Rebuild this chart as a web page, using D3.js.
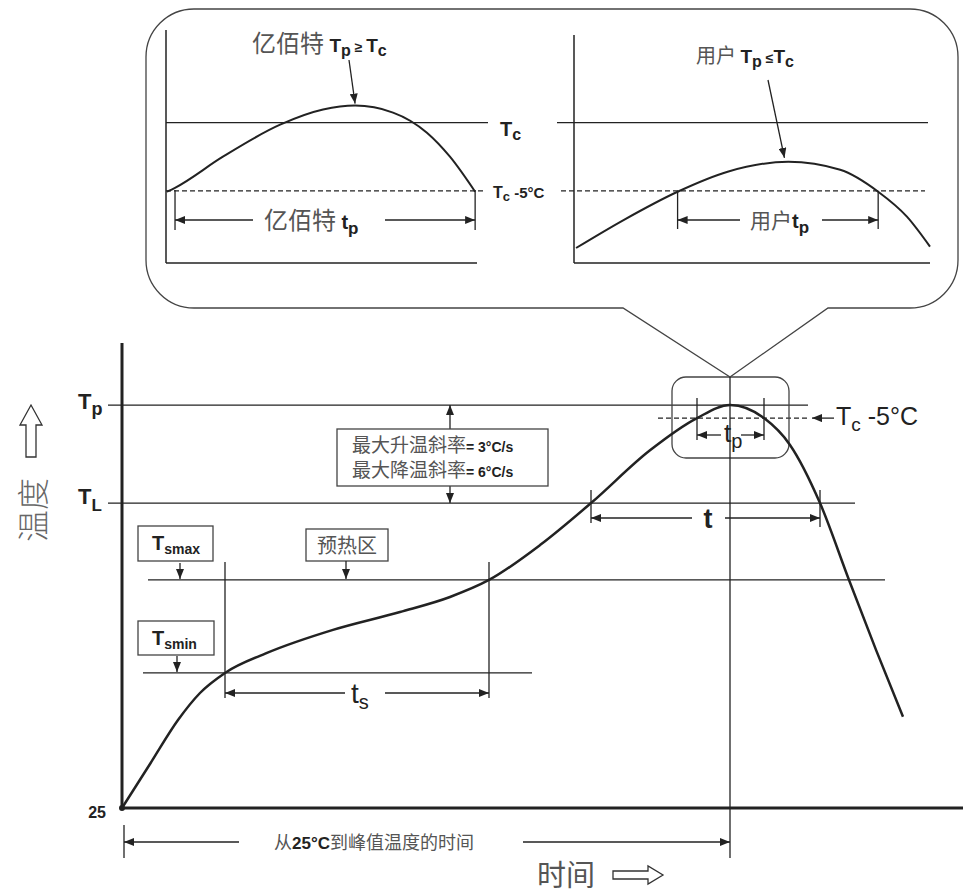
<!DOCTYPE html>
<html lang="zh">
<head>
  <meta charset="UTF-8" />
  <title>回流焊温度曲线</title>
  <style>
    body { margin: 0; background: #fff; }
    svg { display: block; }
  </style>
</head>
<body>
  <div id="chart"></div>
  <script src="https://d3js.org/d3.v7.min.js"></script>
  <script>
    // main profile: time (s) vs temperature (°C)
    var profileTime = [0, 14, 28, 39, 51.5, 72.5, 105.5, 139, 164, 183.5, 209, 234.5, 264, 287.5, 304, 321, 334, 349, 363.5, 377, 390.5];
    var profileTemp = [25, 49.6, 74.2, 89.3, 100.5, 111.7, 124.6, 134.6, 143, 152.5, 172, 195.5, 225, 243, 250.3, 243, 228, 195.5, 152.5, 113.4, 76];

    // temperature levels
    var levelNames = ["Tp", "Tc-5", "TL", "Tsmax", "Tsmin"];
    var levelValues = [250.3, 243, 195.5, 152.5, 100.5];

    // key times
    var tsStart = 51.5, tsEnd = 183.5;
    var tLStart = 234.5, tLEnd = 349;
    var tPeak = 304, tp1 = 287.5, tp2 = 321;

    // inset curves: x in % of inset width, y in °C relative to Tc
    var leftInsetX = [0.3, 2.9, 18.3, 36.7, 50.5, 60.8, 73, 83.9, 91.3, 99.4];
    var leftInsetY = [-5.07, -4.78, -2.5, -0.15, 0.96, 1.25, 0.74, -0.74, -2.5, -5.07];
    var rightInsetX = [0.3, 13.8, 28.9, 43, 60.1, 74.7, 85.4, 93.5, 100];
    var rightInsetY = [-9.2, -7.13, -5.07, -3.6, -2.87, -3.46, -5.07, -6.9, -9.1];

    var LAT = "'Liberation Sans', Arial, sans-serif";
    var CJK = "'Noto Sans CJK SC', 'Noto Sans', sans-serif";
    var INK = "#222", GREY = "#555";

    var svg = d3.select("#chart").append("svg")
      .attr("width", 963).attr("height", 894);

    var defs = svg.append("defs");
    defs.append("marker").attr("id", "arr")
      .attr("viewBox", "0 0 10 8").attr("refX", 10).attr("refY", 4)
      .attr("markerWidth", 10).attr("markerHeight", 8)
      .attr("markerUnits", "userSpaceOnUse").attr("orient", "auto-start-reverse")
      .append("path").attr("d", "M0,0L10,4L0,8Z").attr("fill", INK);

    var x = d3.scaleLinear().domain([0, 400]).range([122, 922]);
    var y = d3.scaleLinear().domain([25, 285]).range([808, 343]);
    var lv = function(name) { return y(levelValues[levelNames.indexOf(name)]); };

    function line(g, x1, y1, x2, y2, w, dash) {
      var l = g.append("line").attr("x1", x1).attr("y1", y1).attr("x2", x2).attr("y2", y2)
        .attr("stroke", INK).attr("stroke-width", w || 1.3);
      if (dash) l.attr("stroke-dasharray", dash);
      return l;
    }
    function arrow(g, x1, y1, x2, y2) {
      return line(g, x1, y1, x2, y2, 1.3).attr("marker-end", "url(#arr)");
    }
    // text built from segments, with subscript shifts
    function rich(g, px, py, segs, anchor) {
      var t = g.append("text").attr("x", px).attr("y", py).attr("text-anchor", anchor || "start");
      var cur = 0;
      segs.forEach(function(s) {
        var sh = s.sub || 0;
        t.append("tspan").attr("dy", sh - cur).attr("dx", s.dx || 0)
          .attr("font-size", s.size)
          .attr("font-weight", s.bold ? "bold" : "normal")
          .attr("font-family", s.cjk ? CJK : LAT)
          .attr("fill", s.cjk ? GREY : INK)
          .text(s.t);
        cur = sh;
      });
      return t;
    }

    // ---------- callout bubble ----------
    var bub = svg.append("g");
    var L = 146, R = 958, T = 9, B = 308, r = 48;
    bub.append("path")
      .attr("d", "M" + (L + r) + "," + T + "L" + (R - r) + "," + T +
        "A" + r + "," + r + " 0 0 1 " + R + "," + (T + r) +
        "L" + R + "," + (B - r) + "A" + r + "," + r + " 0 0 1 " + (R - r) + "," + B +
        "L828," + B + "L" + x(tPeak) + ",377L623," + B +
        "L" + (L + r) + "," + B + "A" + r + "," + r + " 0 0 1 " + L + "," + (B - r) +
        "L" + L + "," + (T + r) + "A" + r + "," + r + " 0 0 1 " + (L + r) + "," + T + "Z")
      .attr("fill", "none").attr("stroke", "#444").attr("stroke-width", 1.3);

    var iy = d3.scaleLinear().domain([-10.3, 6.8]).range([263, 30]);
    var lx = d3.scaleLinear().domain([0, 100]).range([166, 477]);
    var rx = d3.scaleLinear().domain([0, 100]).range([575, 930]);

    // left inset
    line(bub, 166, 30, 166, 263, 1.5);
    line(bub, 166, 263, 477, 263, 1.5);
    line(bub, 166, iy(0), 488, iy(0));
    line(bub, 166, iy(-5), 485, iy(-5), 1.3, "5,3");
    bub.append("path")
      .attr("d", d3.line().x(function(d, i) { return lx(leftInsetX[i]); })
        .y(function(d) { return iy(d); }).curve(d3.curveMonotoneX)(leftInsetY))
      .attr("fill", "none").attr("stroke", INK).attr("stroke-width", 2);
    line(bub, lx(2.9), 190, lx(2.9), 230);
    line(bub, lx(99.4), 190, lx(99.4), 230);
    arrow(bub, 253, 220, lx(2.9), 220);
    arrow(bub, 385, 220, lx(99.4), 220);
    rich(bub, 264, 229, [{t: "亿佰特 ", size: 24, cjk: true}, {t: "t", size: 20, bold: true}, {t: "p", size: 17, bold: true, sub: 5}]);
    rich(bub, 252, 52, [{t: "亿佰特 ", size: 24, cjk: true}, {t: "T", size: 19, bold: true},
      {t: "p", size: 16, bold: true, sub: 4}, {t: " ≥ ", size: 14, bold: true}, {t: "T", size: 19, bold: true}, {t: "c", size: 16, bold: true, sub: 4}]);
    arrow(bub, 349, 60, lx(60.8), iy(1.25) - 2);

    // middle labels
    rich(bub, 500, 136, [{t: "T", size: 20, bold: true}, {t: "c", size: 16, bold: true, sub: 4}]);
    rich(bub, 493, 198, [{t: "T", size: 16, bold: true}, {t: "c", size: 13, bold: true, sub: 3}, {t: " -5°C", size: 15, bold: true}]);

    // right inset
    line(bub, 574, 35, 574, 263, 1.5);
    line(bub, 574, 263, 930, 263, 1.5);
    line(bub, 557, iy(0), 928, iy(0));
    line(bub, 561, iy(-5), 925, iy(-5), 1.3, "5,3");
    bub.append("path")
      .attr("d", d3.line().x(function(d, i) { return rx(rightInsetX[i]); })
        .y(function(d) { return iy(d); }).curve(d3.curveMonotoneX)(rightInsetY))
      .attr("fill", "none").attr("stroke", INK).attr("stroke-width", 2);
    line(bub, rx(28.9), iy(-5), rx(28.9), 229);
    line(bub, rx(85.4), iy(-5), rx(85.4), 229);
    arrow(bub, 740, 220, rx(28.9), 220);
    arrow(bub, 822, 220, rx(85.4), 220);
    rich(bub, 750, 228, [{t: "用户", size: 21, cjk: true}, {t: "t", size: 20, bold: true}, {t: "p", size: 17, bold: true, sub: 5}]);
    rich(bub, 696, 63, [{t: "用户 ", size: 20, cjk: true}, {t: "T", size: 19, bold: true},
      {t: "p", size: 16, bold: true, sub: 4}, {t: " ≤", size: 14, bold: true}, {t: "T", size: 19, bold: true}, {t: "c", size: 16, bold: true, sub: 4}]);
    arrow(bub, 768, 80, rx(59), iy(-2.87) - 4);

    // ---------- main chart ----------
    var g = svg.append("g");

    // level lines
    line(g, 108, lv("Tp"), x(343), lv("Tp"));
    line(g, 108, lv("TL"), x(366.5), lv("TL"));
    line(g, x(13), lv("Tsmax"), x(381.5), lv("Tsmax"));
    line(g, x(10.5), lv("Tsmin"), x(205), lv("Tsmin"));
    line(g, 658, lv("Tc-5"), 810, lv("Tc-5"), 1.3, "5,3");

    // zoom window around the peak
    g.append("rect").attr("x", 672).attr("y", 377).attr("width", 117).attr("height", 81)
      .attr("rx", 14).attr("fill", "none").attr("stroke", "#444").attr("stroke-width", 1.3);
    line(g, x(tPeak), 377, x(tPeak), 858);

    // axes
    line(g, 122, 343, 122, 808, 3);
    line(g, 122, 808, 963, 808, 3);
    g.append("circle").attr("cx", 122).attr("cy", 808).attr("r", 3).attr("fill", INK);

    // profile curve
    g.append("path")
      .attr("d", d3.line().x(function(d, i) { return x(profileTime[i]); })
        .y(function(d) { return y(d); }).curve(d3.curveMonotoneX)(profileTemp))
      .attr("fill", "none").attr("stroke", INK).attr("stroke-width", 2.5);

    // level labels
    rich(g, 78, 409, [{t: "T", size: 22, bold: true}, {t: "p", size: 18, bold: true, sub: 6}]);
    rich(g, 78, 504, [{t: "T", size: 22, bold: true}, {t: "L", size: 17, bold: true, sub: 7}]);
    rich(g, 106, 818, [{t: "25", size: 16, bold: true}], "end");

    // ramp rate box
    arrow(g, 450, 430, 450, lv("Tp"));
    arrow(g, 450, 486, 450, lv("TL"));
    g.append("rect").attr("x", 337).attr("y", 429).attr("width", 211).attr("height", 57)
      .attr("fill", "#fff").attr("stroke", "#444").attr("stroke-width", 1.3);
    rich(g, 352, 452, [{t: "最大升温斜率", size: 19, cjk: true}, {t: "= 3°C/s", size: 14, bold: true}]);
    rich(g, 352, 477, [{t: "最大降温斜率", size: 19, cjk: true}, {t: "= 6°C/s", size: 14, bold: true}]);

    // preheat boxes
    g.append("rect").attr("x", 138).attr("y", 526).attr("width", 75).attr("height", 35)
      .attr("fill", "#fff").attr("stroke", "#444").attr("stroke-width", 1.3);
    rich(g, 152, 550, [{t: "T", size: 20, bold: true}, {t: "smax", size: 14, bold: true, sub: 4}]);
    arrow(g, 180, 563, 180, lv("Tsmax") - 1);
    g.append("rect").attr("x", 306).attr("y", 529).attr("width", 82).attr("height", 32)
      .attr("fill", "#fff").attr("stroke", "#444").attr("stroke-width", 1.3);
    rich(g, 347, 553, [{t: "预热区", size: 20, cjk: true}], "middle");
    arrow(g, 346, 561, 346, lv("Tsmax") - 1);
    g.append("rect").attr("x", 138).attr("y", 621).attr("width", 76).attr("height", 34)
      .attr("fill", "#fff").attr("stroke", "#444").attr("stroke-width", 1.3);
    rich(g, 152, 645, [{t: "T", size: 20, bold: true}, {t: "smin", size: 14, bold: true, sub: 4}]);
    arrow(g, 177, 656, 177, lv("Tsmin") - 1);

    // ts
    line(g, x(tsStart), 562, x(tsStart), 698);
    line(g, x(tsEnd), 562, x(tsEnd), 698);
    arrow(g, 345, 693, x(tsStart), 693);
    arrow(g, 385, 693, x(tsEnd), 693);
    rich(g, 351, 703, [{t: "t", size: 28}, {t: "s", size: 20, sub: 6}]);

    // t above liquidus
    line(g, x(tLStart), 490, x(tLStart), 523);
    line(g, x(tLEnd), 490, x(tLEnd), 527);
    arrow(g, 692, 518, x(tLStart), 518);
    arrow(g, 725, 518, x(tLEnd), 518);
    rich(g, 708, 528, [{t: "t", size: 27, bold: true}], "middle");

    // tp within 5°C of Tc
    line(g, x(tp1), 398, x(tp1), 440);
    line(g, x(tp2), 398, x(tp2), 440);
    arrow(g, 721, 435, x(tp1), 435);
    arrow(g, 741, 435, x(tp2), 435);
    rich(g, 724, 442, [{t: "t", size: 26}, {t: "p", size: 20, sub: 6}]);

    arrow(g, 834, lv("Tc-5"), 812, lv("Tc-5"));
    rich(g, 836, 425, [{t: "T", size: 25}, {t: "c", size: 19, sub: 6}, {t: " -5°C", size: 25, sub: 0}]);

    // time to peak
    line(g, 124, 825, 124, 858);
    arrow(g, 239, 842, 124, 842);
    arrow(g, 523, 842, x(tPeak), 842);
    rich(g, 274, 849, [{t: "从", size: 18, cjk: true}, {t: "25°C", size: 17, bold: true}, {t: "到峰值温度的时间", size: 18, cjk: true}]);

    // axis titles with hollow arrows
    rich(g, 537, 886, [{t: "时间", size: 29, cjk: true}]);
    g.append("path").attr("d", "M613,871L648,871L648,866L663,875L648,884L648,879L613,879Z")
      .attr("fill", "#fff").attr("stroke", "#333").attr("stroke-width", 1.3);
    g.append("path").attr("d", "M26,457L26,425L20,425L31,405L42,425L36,425L36,457Z")
      .attr("fill", "#fff").attr("stroke", "#333").attr("stroke-width", 1.3);
    g.append("text").attr("transform", "translate(45,510) rotate(-90)")
      .attr("text-anchor", "middle").attr("font-family", CJK).attr("font-size", 32)
      .attr("font-weight", 300).attr("fill", "#666").text("温度");
  </script>
</body>
</html>
